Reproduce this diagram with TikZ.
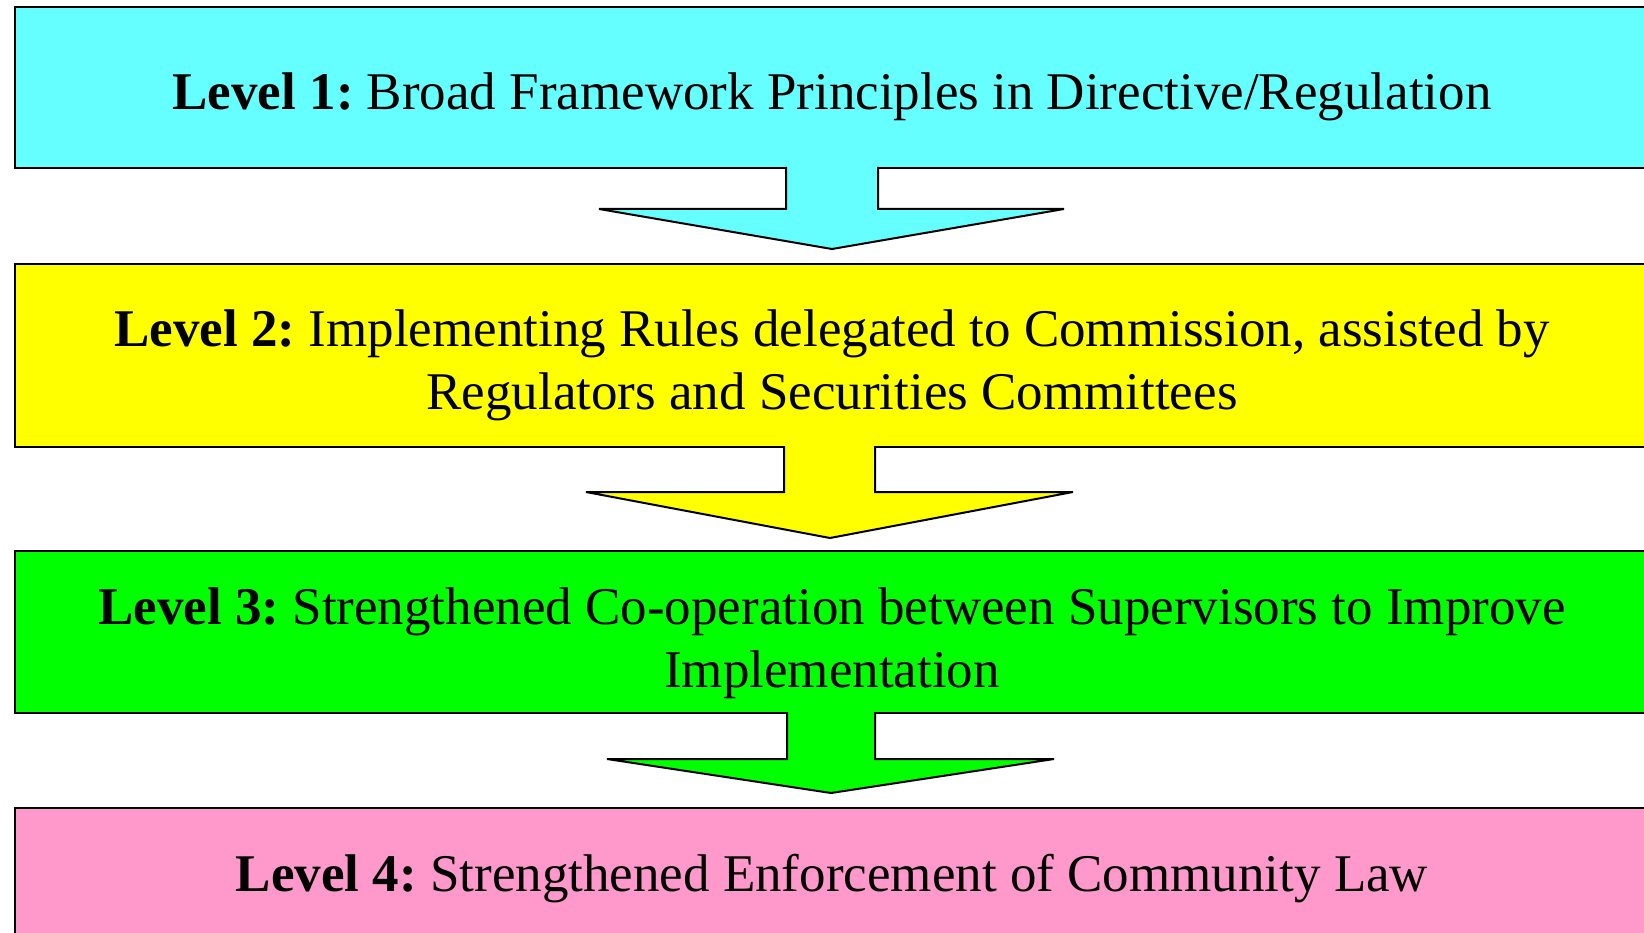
\documentclass[tikz,border=0pt]{standalone}
\usepackage{fontspec}
\setmainfont{Liberation Serif}
\frenchspacing
\definecolor{lvlcyan}{HTML}{66FFFF}
\definecolor{lvlyellow}{HTML}{FFFF00}
\definecolor{lvlgreen}{HTML}{00FF00}
\definecolor{lvlpink}{HTML}{FF99CC}
\tikzset{
  levelbox/.style={draw=black, line width=2pt, inner sep=0pt, anchor=north west},
  leveltext/.style={anchor=base, inner sep=0pt, font=\fontsize{53}{63}\selectfont},
  arrowline/.style={draw=black, line width=2pt, line join=miter},
}
\begin{document}
\begin{tikzpicture}[x=1pt,y=-1pt]
  \useasboundingbox (0,0) rectangle (1644,933);
  \clip (0,0) rectangle (1644,933);
  \fill[white] (0,0) rectangle (1644,933);

  % level boxes
  \node[levelbox, fill=lvlcyan,   minimum width=1636pt, minimum height=161pt] (b1) at (14,6) {};
  \node[levelbox, fill=lvlyellow, minimum width=1636pt, minimum height=183pt] (b2) at (14,263) {};
  \node[levelbox, fill=lvlgreen,  minimum width=1636pt, minimum height=162pt] (b3) at (14,550) {};
  \node[levelbox, fill=lvlpink,   minimum width=1636pt, minimum height=200pt] (b4) at (14,807) {};

  % block arrows between the levels
  \fill[lvlcyan] (786,165) -- (786,209) -- (599,209) -- (832,249) -- (1064,209) -- (878,209) -- (878,165) -- cycle;
  \draw[arrowline] (786,167) -- (786,209) -- (599,209) -- (832,249) -- (1064,209) -- (878,209) -- (878,167);

  \fill[lvlyellow] (784,444) -- (784,492) -- (586,492) -- (830,538) -- (1073,492) -- (875,492) -- (875,444) -- cycle;
  \draw[arrowline] (784,446) -- (784,492) -- (586,492) -- (830,538) -- (1073,492) -- (875,492) -- (875,446);

  \fill[lvlgreen] (787,710) -- (787,759) -- (607,759) -- (831,793) -- (1054,759) -- (875,759) -- (875,710) -- cycle;
  \draw[arrowline] (787,712) -- (787,759) -- (607,759) -- (831,793) -- (1054,759) -- (875,759) -- (875,712);

  % texts
  \node[leveltext] (t1) at (832,110) {\textbf{Level 1:} Broad Framework Principles in Directive/Regulation};
  \node[leveltext] (t2a) at (832,346) {\textbf{Level 2:} Implementing Rules delegated to Commission, assisted by};
  \node[leveltext] (t2b) at (832,409) {Regulators and Securities Committees};
  \node[leveltext] (t3a) at (832,624) {\textbf{Level 3:} Strengthened Co-operation between Supervisors to Improve};
  \node[leveltext] (t3b) at (832,687) {Implementation};
  \node[leveltext] (t4) at (832,891) {\textbf{Level 4:} Strengthened Enforcement of Community Law};
\end{tikzpicture}
\end{document}
